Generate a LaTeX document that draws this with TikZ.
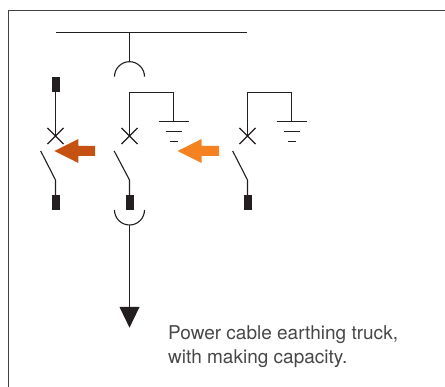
\documentclass[tikz,border=0pt]{standalone}
\usepackage{fontspec}
\setmainfont{TeX Gyre Heros}
\usetikzlibrary{shapes.misc,calc}
\definecolor{rust}{HTML}{C55113}
\definecolor{amber}{HTML}{F58220}
\definecolor{ink}{HTML}{231F20}
\tikzset{
  wire/.style={ink, line width=1.1pt},
  plug/.style={fill=ink, minimum width=8pt, minimum height=15pt, inner sep=0pt},
  breaker/.style={cross out, draw=ink, line width=1.1pt, minimum size=15pt, inner sep=0pt},
  caption/.style={anchor=base west, inner sep=0pt, text=black!72, font=\fontsize{19}{24}\selectfont}
}
\begin{document}
\begin{tikzpicture}[x=1pt, y=-1pt]
            \useasboundingbox (0,0) rectangle (445,387);
            \draw[black!75, line width=1.4pt] (8.5,387) -- (8.5,10.5) -- (445,10.5);

            \coordinate (barL) at (55.5,32.5);
            \coordinate (barR) at (247,32.5);
            \coordinate (barT) at (129.5,32.5);
            \draw[wire] (barL) -- (barR);

            \coordinate (arcT) at (129.5,61.7);
            \draw[wire] (barT) -- (arcT);
            \draw[wire] (114.5,76.7) arc (180:360:15);

            \node[plug] (plugA) at (55.5,84.2) {};
            \node[breaker] (brkA) at (55.5,136) {};
            \coordinate (kneeA) at (55.5,180);
            \coordinate (openA) at (40.7,151);
            \node[plug] (plugB) at (55.5,202.5) {};
            \draw[wire] (plugA) -- (brkA.center);
            \draw[wire] (openA) -- (kneeA) -- (plugB);

            \node[breaker] (brkC) at (129.5,136) {};
            \coordinate (kneeC) at (129.5,180);
            \coordinate (openC) at (114.2,151);
            \node[plug] (plugC) at (129.5,202.5) {};
            \coordinate (topC) at (129.5,92.5);
            \coordinate (gndC) at (173.5,121.5);
            \draw[wire] (brkC.center) -- (topC) -| (gndC);
            \draw[wire] (openC) -- (kneeC) -- (plugC);
            \draw[wire] ($(gndC)+(-15,0)$) -- ($(gndC)+(15,0)$);
            \draw[wire] ($(gndC)+(-8,10)$) -- ($(gndC)+(8,10)$);
            \draw[wire] ($(gndC)+(-4,20)$) -- ($(gndC)+(4,20)$);

            \node[breaker] (brkD) at (247.5,136) {};
            \coordinate (kneeD) at (247.5,180);
            \coordinate (openD) at (232.7,151);
            \node[plug] (plugD) at (247.5,202.5) {};
            \coordinate (topD) at (247.5,92.5);
            \coordinate (gndD) at (291.5,121.5);
            \draw[wire] (brkD.center) -- (topD) -| (gndD);
            \draw[wire] (openD) -- (kneeD) -- (plugD);
            \draw[wire] ($(gndD)+(-15,0)$) -- ($(gndD)+(15,0)$);
            \draw[wire] ($(gndD)+(-8,10)$) -- ($(gndD)+(8,10)$);
            \draw[wire] ($(gndD)+(-4,20)$) -- ($(gndD)+(4,20)$);

            \fill[rust] (54.3,151) -- (78.3,139) -- (78.3,146) -- (95,146) -- (95,156) -- (78.3,156) -- (78.3,163) -- cycle;
            \fill[amber] (177.7,151) -- (201.7,139) -- (201.7,146) -- (219,146) -- (219,156) -- (201.7,156) -- (201.7,163) -- cycle;

            \draw[wire] (114.5,210) arc (180:0:15);
            \coordinate (arcB) at (129.5,225);
            \coordinate (tipT) at (129.5,307.5);
            \draw[wire] (arcB) -- (tipT);
            \fill[ink] (119.5,307) -- (139.5,307) -- (129.5,327.7) -- cycle;

            \node[caption] (noteA) at (168,340) {Power cable earthing truck,};
            \node[caption] (noteB) at (168,364) {with making capacity.};
        \end{tikzpicture}
\end{document}
